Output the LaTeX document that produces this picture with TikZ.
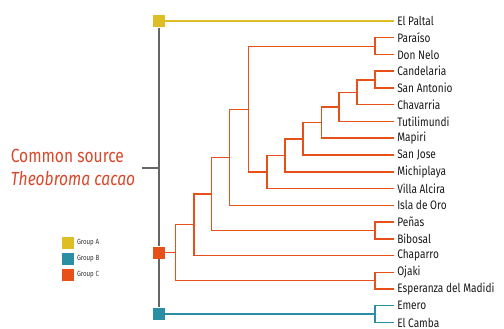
\documentclass[tikz,border=0pt]{standalone}
\usepackage{fontspec}
\setmainfont{Fira Sans}[FakeStretch=0.82]
\usetikzlibrary{positioning}
\definecolor{groupA}{HTML}{DDBF25}
\definecolor{groupB}{HTML}{2B8FA3}
\definecolor{groupC}{HTML}{E8501A}
\definecolor{rootgray}{HTML}{666666}
\definecolor{titlered}{HTML}{D9482B}
\newcommand{\leaffont}{\fontsize{12.3}{14}\selectfont}

\begin{document}
\begin{tikzpicture}[x=1pt,y=-1pt,font=\leaffont,line width=1.5pt,
  leaf/.style={anchor=west,inner xsep=3pt,inner ysep=0pt,text=black!90},
  badge/.style={minimum size=12pt,inner sep=0pt},
  cladeA/.style={groupA,line width=1.4pt},
  cladeB/.style={groupB,line width=1.4pt},
  cladeC/.style={groupC}]
\useasboundingbox (0,0) rectangle (504,329);

% leaves
\foreach \name [count=\i from 0] in {El Paltal,Paraíso,Don Nelo,Candelaria,
  San Antonio,Chavarria,Tutilimundi,Mapiri,San Jose,Michiplaya,Villa Alcira,
  Isla de Oro,Peñas,Bibosal,Chaparro,Ojaki,Esperanza del Madidi,Emero,El Camba}
  \node[leaf] (l\i) at (393.5,{21+16.75*\i}) {\name};

% joints of group C
\coordinate (jpar) at (375,46.6);
\coordinate (jcs) at (375,80.1);
\coordinate (jchv) at (357,92.4);
\coordinate (jtut) at (339,107);
\coordinate (jmap) at (321.7,122.6);
\coordinate (jsj) at (303,138.8);
\coordinate (jmic) at (285,155.3);
\coordinate (jva) at (267,171.9);
\coordinate (jupper) at (248.3,109.3);
\coordinate (jido) at (229.3,157.3);
\coordinate (jpb) at (375,230.4);
\coordinate (jmid) at (211.7,193.8);
\coordinate (jcha) at (194,224.7);
\coordinate (joe) at (375,280.6);
\coordinate (jc) at (175.7,252.6);
\coordinate (jb) at (375,314.1);
\coordinate (stub) at (142,167.5);

% root
\node[badge,fill=groupA] (sqA) at (158.5,21) {};
\node[badge,fill=groupC] (sqC) at (158.5,252.6) {};
\node[badge,fill=groupB] (sqB) at (158.5,314.1) {};
\draw[rootgray,line width=2pt] (sqA) -- (sqC) -- (sqB);
\draw[rootgray,line width=2pt] (stub) -- (stub -| sqA);

% group A and B
\draw[cladeA] (sqA) -- (l0.west);
\draw[cladeB] (sqB) -- (jb);
\draw[cladeB] (jb) |- (l17.west);
\draw[cladeB] (jb) |- (l18.west);

% group C
\draw[cladeC] (sqC) -- (jc);
\draw[cladeC] (jpar) |- (l1.west);
\draw[cladeC] (jpar) |- (l2.west);
\draw[cladeC] (jcs) |- (l3.west);
\draw[cladeC] (jcs) |- (l4.west);
\draw[cladeC] (jchv) |- (jcs);
\draw[cladeC] (jchv) |- (l5.west);
\draw[cladeC] (jtut) |- (jchv);
\draw[cladeC] (jtut) |- (l6.west);
\draw[cladeC] (jmap) |- (jtut);
\draw[cladeC] (jmap) |- (l7.west);
\draw[cladeC] (jsj) |- (jmap);
\draw[cladeC] (jsj) |- (l8.west);
\draw[cladeC] (jmic) |- (jsj);
\draw[cladeC] (jmic) |- (l9.west);
\draw[cladeC] (jva) |- (jmic);
\draw[cladeC] (jva) |- (l10.west);
\draw[cladeC] (jupper) |- (jpar);
\draw[cladeC] (jupper) |- (jva);
\draw[cladeC] (jido) |- (jupper);
\draw[cladeC] (jido) |- (l11.west);
\draw[cladeC] (jpb) |- (l12.west);
\draw[cladeC] (jpb) |- (l13.west);
\draw[cladeC] (jmid) |- (jido);
\draw[cladeC] (jmid) |- (jpb);
\draw[cladeC] (jcha) |- (jmid);
\draw[cladeC] (jcha) |- (l14.west);
\draw[cladeC] (joe) |- (l15.west);
\draw[cladeC] (joe) |- (l16.west);
\draw[cladeC] (jc) |- (jcha);
\draw[cladeC] (jc) |- (joe);

% title
\node[anchor=west,inner sep=0pt,text=titlered,font=\fontsize{19}{21}\selectfont] (title) at (10,156) {Common source};
\node[anchor=west,inner sep=0pt,text=titlered,font=\fontsize{19}{21}\selectfont\itshape] (species) at (10,178) {Theobroma cacao};

% legend
\node[badge,fill=groupA] (keyA) at (68,243) {};
\node[badge,fill=groupB] (keyB) at (68,259) {};
\node[badge,fill=groupC] (keyC) at (68,275) {};
\node[right=1.5pt of keyA,inner sep=0pt,font=\fontsize{7.5}{8}\selectfont,text=black!80] (txtA) {Group A};
\node[right=1.5pt of keyB,inner sep=0pt,font=\fontsize{7.5}{8}\selectfont,text=black!80] (txtB) {Group B};
\node[right=1.5pt of keyC,inner sep=0pt,font=\fontsize{7.5}{8}\selectfont,text=black!80] (txtC) {Group C};
\end{tikzpicture}
\end{document}
